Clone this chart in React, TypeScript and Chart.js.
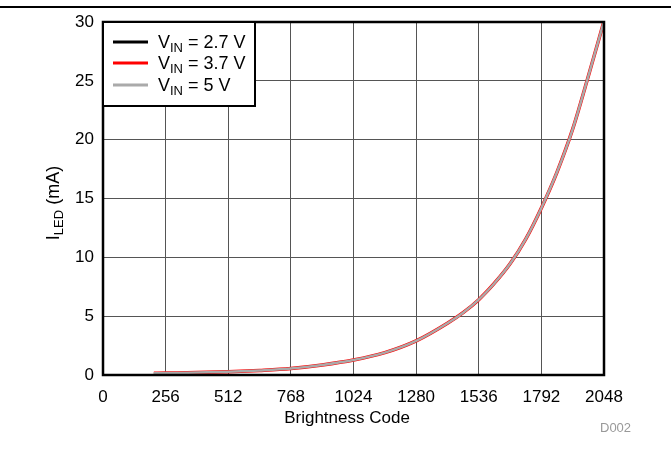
import React, { useEffect, useRef } from "react";
import { Chart, registerables } from "chart.js";

Chart.register(...registerables);

const codes = [208, 256, 384, 512, 640, 768, 896, 1024, 1152, 1280, 1408, 1472, 1536, 1600, 1664, 1728, 1792, 1856, 1920, 1984, 2047];
const iled27 = [0.14, 0.16, 0.21, 0.28, 0.39, 0.55, 0.85, 1.27, 1.9, 2.9, 4.4, 5.3, 6.4, 7.8, 9.45, 11.55, 14.2, 17.25, 20.9, 25.4, 30];
const iled37 = [0.14, 0.16, 0.21, 0.28, 0.39, 0.55, 0.85, 1.27, 1.9, 2.9, 4.4, 5.3, 6.4, 7.8, 9.45, 11.55, 14.2, 17.25, 20.9, 25.4, 30];
const iled50 = [0.14, 0.16, 0.21, 0.28, 0.39, 0.55, 0.85, 1.27, 1.9, 2.9, 4.4, 5.3, 6.4, 7.8, 9.45, 11.55, 14.2, 17.25, 20.9, 25.4, 30];
const xTicks = [0, 256, 512, 768, 1024, 1280, 1536, 1792, 2048];
const legendLabels = ["2.7 V", "3.7 V", "5 V"];
const seriesColors = ["#000000", "#ff0000", "#aaaaaa"];

const FONT = "Arial, 'Liberation Sans', sans-serif";

const decorPlugin = {
  id: "decor",
  afterDraw(chart: any) {
    const ctx = chart.ctx as CanvasRenderingContext2D;
    const a = chart.chartArea;
    ctx.save();
    // top rule
    ctx.strokeStyle = "#000";
    ctx.lineWidth = 2;
    ctx.beginPath();
    ctx.moveTo(0, 7);
    ctx.lineTo(chart.width, 7);
    ctx.stroke();
    // plot border
    ctx.lineWidth = 2.5;
    ctx.strokeRect(a.left, a.top, a.right - a.left, a.bottom - a.top);

    // legend box
    const lx = a.left, ly = a.top, lw = 152, lh = 84;
    ctx.fillStyle = "#fff";
    ctx.fillRect(lx, ly, lw, lh);
    ctx.lineWidth = 2;
    ctx.strokeRect(lx, ly, lw, lh);
    const rows = [42, 63, 85];
    for (let i = 0; i < 3; i++) {
      const y = rows[i];
      ctx.strokeStyle = seriesColors[i];
      ctx.lineWidth = 3;
      ctx.beginPath();
      ctx.moveTo(113, y);
      ctx.lineTo(148, y);
      ctx.stroke();
      ctx.fillStyle = "#000";
      ctx.textBaseline = "alphabetic";
      ctx.textAlign = "left";
      let x = 158;
      const base = y + 6;
      ctx.font = `18px ${FONT}`;
      ctx.fillText("V", x, base);
      x += ctx.measureText("V").width;
      ctx.font = `13px ${FONT}`;
      ctx.fillText("IN", x, base + 4);
      x += ctx.measureText("IN").width;
      ctx.font = `18px ${FONT}`;
      ctx.fillText(" = " + legendLabels[i], x, base);
    }

    // y title
    ctx.save();
    ctx.translate(59, 203);
    ctx.rotate(-Math.PI / 2);
    ctx.fillStyle = "#000";
    ctx.font = `18px ${FONT}`;
    const w1 = ctx.measureText("I").width;
    const w3 = ctx.measureText(" (mA)").width;
    ctx.font = `13px ${FONT}`;
    const w2 = ctx.measureText("LED").width;
    let tx = -(w1 + w2 + w3) / 2;
    ctx.textAlign = "left";
    ctx.font = `18px ${FONT}`;
    ctx.fillText("I", tx, 0);
    tx += w1;
    ctx.font = `13px ${FONT}`;
    ctx.fillText("LED", tx, 4);
    tx += w2;
    ctx.font = `18px ${FONT}`;
    ctx.fillText(" (mA)", tx, 0);
    ctx.restore();

    // x title
    ctx.fillStyle = "#000";
    ctx.font = `17px ${FONT}`;
    ctx.textAlign = "center";
    ctx.textBaseline = "alphabetic";
    ctx.fillText("Brightness Code", 347, 423);

    // figure id
    ctx.fillStyle = "#999";
    ctx.font = `13px ${FONT}`;
    ctx.textAlign = "left";
    ctx.fillText("D002", 600, 432);
    ctx.restore();
  },
};

export default function App() {
  const ref = useRef<HTMLCanvasElement | null>(null);
  useEffect(() => {
    if (!ref.current) return;
    const mk = (vals: number[]) => codes.map((c, i) => ({ x: c, y: vals[i] }));
    const chart = new Chart(ref.current, {
      type: "line",
      data: {
        datasets: [
          { label: "VIN = 2.7 V", data: mk(iled27), borderColor: seriesColors[0], borderWidth: 2, order: 3 },
          { label: "VIN = 3.7 V", data: mk(iled37), borderColor: seriesColors[1], borderWidth: 3.5, order: 2 },
          { label: "VIN = 5 V", data: mk(iled50), borderColor: seriesColors[2], borderWidth: 2.5, order: 1 },
        ].map((d) => ({ ...d, pointRadius: 0, fill: false, cubicInterpolationMode: "monotone" as const })),
      },
      options: {
        animation: false,
        responsive: false,
        layout: { padding: { left: 0, right: 67, top: 22, bottom: 0 } },
        plugins: { legend: { display: false }, tooltip: { enabled: false } },
        scales: {
          x: {
            type: "linear",
            min: 0,
            max: 2048,
            afterBuildTicks: (s: any) => {
              s.ticks = xTicks.map((v) => ({ value: v }));
            },
            afterFit: (s: any) => {
              s.height = 97;
            },
            ticks: {
              color: "#000",
              font: { size: 17, family: FONT },
              padding: 12,
              maxRotation: 0,
              autoSkip: false,
              callback: (v: any) => String(v),
            },
            grid: { color: "#555", lineWidth: 1, drawTicks: false },
            border: { display: false },
          },
          y: {
            min: 0,
            max: 30,
            afterFit: (s: any) => {
              s.width = 103;
            },
            ticks: {
              stepSize: 5,
              color: "#000",
              font: { size: 17, family: FONT },
              padding: 9,
              callback: (v: any) => String(v),
            },
            grid: { color: "#555", lineWidth: 1, drawTicks: false },
            border: { display: false },
          },
        },
      },
      plugins: [decorPlugin],
    });
    return () => chart.destroy();
  }, []);
  return (
    <div style={{ position: "fixed", left: 0, top: 0, width: 671, height: 472, background: "#fff" }}>
      <canvas ref={ref} width={671} height={472} style={{ width: 671, height: 472 }} />
    </div>
  );
}
